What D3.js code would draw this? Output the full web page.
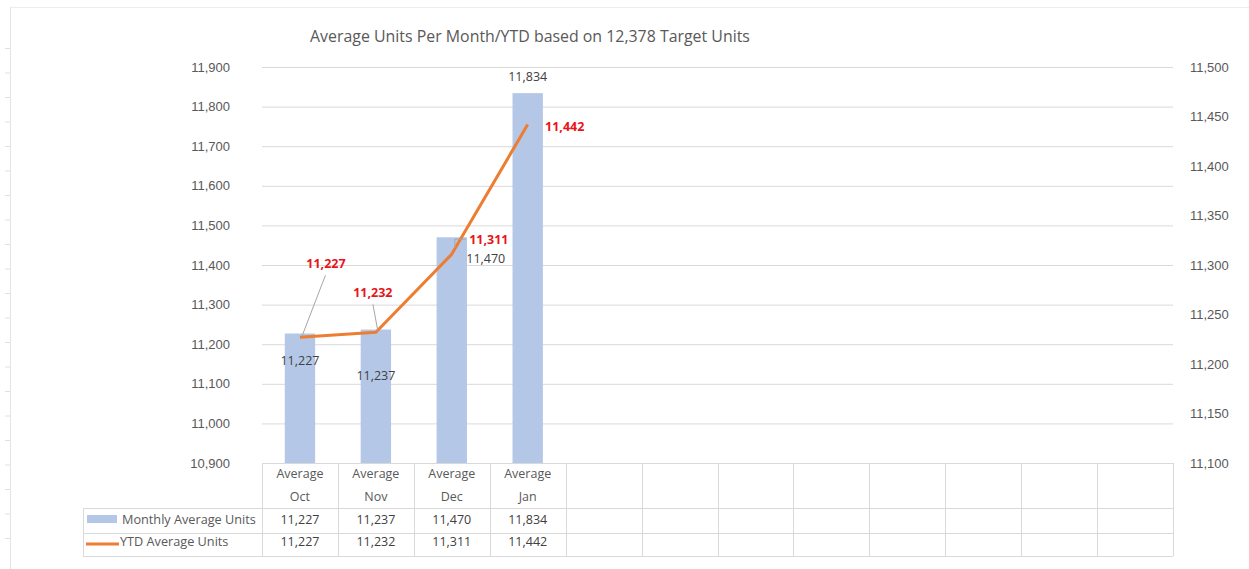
<!DOCTYPE html>
<html>
<head>
<meta charset="utf-8">
<script src="https://cdn.jsdelivr.net/npm/d3@7"></script>
<style>
  html, body { margin: 0; padding: 0; background: #fff; }
  svg { display: block; font-family: "Open Sans", "Noto Sans", sans-serif; }
</style>
</head>
<body>
<svg id="chart" width="1249" height="569"></svg>
<script>
// ---------- data ----------
const title = "Average Units Per Month/YTD based on 12,378 Target Units";
const categoryTop = ["Average", "Average", "Average", "Average", "", "", "", "", "", "", "", ""];
const categoryBottom = ["Oct", "Nov", "Dec", "Jan", "", "", "", "", "", "", "", ""];
const monthlyName = "Monthly Average Units";
const ytdName = "YTD Average Units";
const monthly = [11227, 11237, 11470, 11834];
const ytd = [11227, 11232, 11311, 11442];
const leftTicks = [10900, 11000, 11100, 11200, 11300, 11400, 11500, 11600, 11700, 11800, 11900];
const rightTicks = [11100, 11150, 11200, 11250, 11300, 11350, 11400, 11450, 11500];

// ---------- layout ----------
const svg = d3.select("#chart");
const L = 262, R = 1173, T = 67, B = 463;
const fmt = d3.format(",");
const grid = "#D9D9D9";
const textCol = "#595959";
const darkText = "#404040";
const barCol = "#B4C7E7";
const lineCol = "#ED7D31";
const labelRed = "#E8141B";

const x = d3.scaleBand().domain(d3.range(categoryTop.length)).range([L, R]).paddingInner(0).paddingOuter(0);
const yL = d3.scaleLinear().domain([leftTicks[0], leftTicks[leftTicks.length - 1]]).range([B, T]);
const yR = d3.scaleLinear().domain([rightTicks[0], rightTicks[rightTicks.length - 1]]).range([B, T]);

// page frame artefacts
svg.append("line").attr("x1", 10).attr("x2", 1249).attr("y1", 7.5).attr("y2", 7.5).attr("stroke", "#EDEDED");
svg.append("line").attr("x1", 10.5).attr("x2", 10.5).attr("y1", 7).attr("y2", 569).attr("stroke", "#E4E4E4");
svg.append("g").selectAll("line").data(d3.range(-2, 19)).join("line")
  .attr("x1", 5).attr("x2", 10).attr("y1", d => 97.5 + d * 24.5).attr("y2", d => 97.5 + d * 24.5)
  .attr("stroke", "#E0E0E0");

// title
svg.append("text").attr("x", 530).attr("y", 42).attr("text-anchor", "middle")
  .attr("font-size", 15.9).attr("fill", textCol).text(title);

// left axis with gridlines
const gL = svg.append("g").attr("transform", `translate(${L},0)`)
  .call(d3.axisLeft(yL).tickValues(leftTicks).tickSize(-(R - L)).tickPadding(32).tickFormat(fmt));
gL.select(".domain").remove();
gL.selectAll(".tick line").attr("stroke", grid);
gL.selectAll(".tick text").attr("fill", textCol).attr("font-size", 13).attr("font-family", null);

// right axis
const gR = svg.append("g").attr("transform", `translate(${R},0)`)
  .call(d3.axisRight(yR).tickValues(rightTicks).tickSize(0).tickPadding(17).tickFormat(fmt));
gR.select(".domain").remove();
gR.selectAll(".tick text").attr("fill", textCol).attr("font-size", 13).attr("font-family", null);

// bars
const bw = x.bandwidth() * 0.4;
svg.append("g").selectAll("rect").data(monthly).join("rect")
  .attr("x", (d, i) => x(i) + (x.bandwidth() - bw) / 2)
  .attr("width", bw)
  .attr("y", d => yL(d))
  .attr("height", d => B - yL(d))
  .attr("fill", barCol);

// line
const line = d3.line().x((d, i) => x(i) + x.bandwidth() / 2).y(d => yR(d));
svg.append("path").datum(ytd).attr("d", line).attr("fill", "none")
  .attr("stroke", lineCol).attr("stroke-width", 3).attr("stroke-linejoin", "round");

// bar data labels (custom placement like the source)
const barLabelOff = [[0, 27], [0, 46], [34, 21], [0, -17]];
svg.append("g").selectAll("text").data(monthly).join("text")
  .attr("x", (d, i) => x(i) + x.bandwidth() / 2 + barLabelOff[i][0])
  .attr("y", (d, i) => yL(d) + barLabelOff[i][1] + 4.5)
  .attr("text-anchor", "middle").attr("font-size", 12.5).attr("fill", darkText)
  .text(d => fmt(d));

// line data labels
const lineLabelOff = [[26, -74], [-3, -40], [37, -15], [37, 2]];
svg.append("g").selectAll("text").data(ytd).join("text")
  .attr("x", (d, i) => x(i) + x.bandwidth() / 2 + lineLabelOff[i][0])
  .attr("y", (d, i) => yR(d) + lineLabelOff[i][1] + 4.5)
  .attr("text-anchor", "middle").attr("font-size", 12.5).attr("font-weight", "bold").attr("fill", labelRed)
  .text(d => fmt(d));

// leader lines
const leaders = [0, 1];
svg.append("g").selectAll("line").data(leaders).join("line")
  .attr("x1", i => x(i) + x.bandwidth() / 2 + lineLabelOff[i][0] * 0.98)
  .attr("y1", i => yR(ytd[i]) + lineLabelOff[i][1] + 12)
  .attr("x2", i => x(i) + x.bandwidth() / 2 + 2)
  .attr("y2", i => yR(ytd[i]) - 1)
  .attr("stroke", "#A6A6A6").attr("stroke-width", 1);
{
  const cx = x(2) + x.bandwidth() / 2, cy = yR(ytd[2]);
  svg.append("path").attr("d", `M${cx + 14},${cy - 15}H${cx + 3}V${cy - 6}`)
    .attr("fill", "none").attr("stroke", "#A6A6A6");
}

// ---------- data table ----------
const rowTop = [B, 508, 533, 556];
const tbl = svg.append("g").attr("stroke", grid).attr("fill", "none").attr("stroke-width", 1);
tbl.append("line").attr("x1", L).attr("x2", R).attr("y1", B + 0.5).attr("y2", B + 0.5);
[1, 2, 3].forEach(k => tbl.append("line").attr("x1", 83).attr("x2", R).attr("y1", rowTop[k] + 0.5).attr("y2", rowTop[k] + 0.5));
const bounds = x.domain().map(i => x(i)).concat([R]);
tbl.selectAll("line.v").data(bounds).join("line").attr("class", "v")
  .attr("x1", d => Math.round(d) + 0.5).attr("x2", d => Math.round(d) + 0.5).attr("y1", B).attr("y2", rowTop[3]);
tbl.append("line").attr("x1", 83.5).attr("x2", 83.5).attr("y1", rowTop[1]).attr("y2", rowTop[3]);

// header text
const hdr = svg.append("g").attr("font-size", 12.5).attr("fill", textCol).attr("text-anchor", "middle");
hdr.selectAll("text.a").data(categoryTop).join("text").attr("class", "a")
  .attr("x", (d, i) => x(i) + x.bandwidth() / 2).attr("y", 478).text(d => d);
hdr.selectAll("text.b").data(categoryBottom).join("text").attr("class", "b")
  .attr("x", (d, i) => x(i) + x.bandwidth() / 2).attr("y", 501).text(d => d);

// value rows
const vals = svg.append("g").attr("font-size", 12.5).attr("fill", darkText).attr("text-anchor", "middle");
vals.selectAll("text.m").data(monthly).join("text").attr("class", "m")
  .attr("x", (d, i) => x(i) + x.bandwidth() / 2).attr("y", 524).text(d => fmt(d));
vals.selectAll("text.y").data(ytd).join("text").attr("class", "y")
  .attr("x", (d, i) => x(i) + x.bandwidth() / 2).attr("y", 546).text(d => fmt(d));

// legend keys
svg.append("rect").attr("x", 87).attr("y", 515).attr("width", 30).attr("height", 8).attr("fill", barCol);
svg.append("line").attr("x1", 86).attr("x2", 119).attr("y1", 544).attr("y2", 544).attr("stroke", lineCol).attr("stroke-width", 3);
svg.append("text").attr("x", 122).attr("y", 524).attr("font-size", 12.7).attr("fill", textCol).text(monthlyName);
svg.append("text").attr("x", 120).attr("y", 546).attr("font-size", 12.7).attr("fill", textCol).text(ytdName);
</script>
</body>
</html>
